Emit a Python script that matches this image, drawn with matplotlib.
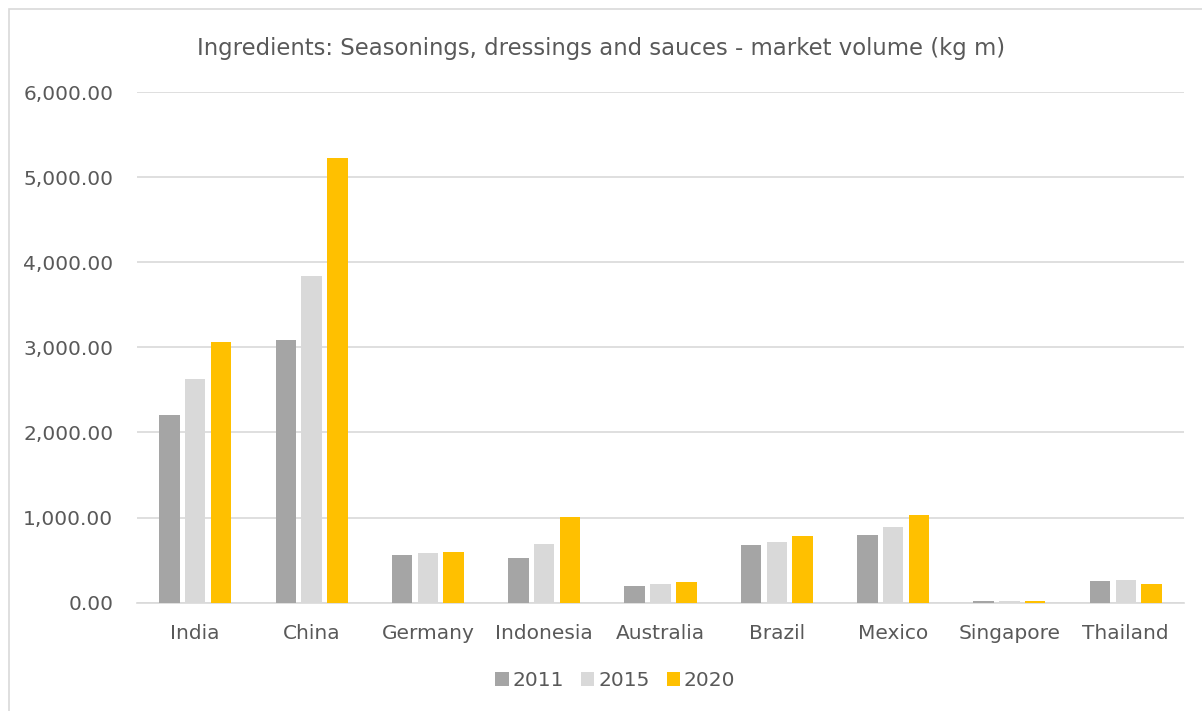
import matplotlib
matplotlib.use("Agg")
import matplotlib.pyplot as plt
import numpy as np
from matplotlib.patches import Rectangle

countries = ["India", "China", "Germany", "Indonesia", "Australia",
             "Brazil", "Mexico", "Singapore", "Thailand"]
vol_2011 = [2209, 3087, 556, 525, 196, 678, 791, 20, 251]
vol_2015 = [2632, 3843, 580, 685, 215, 709, 893, 22, 266]
vol_2020 = [3067, 5226, 595, 1007, 243, 783, 1030, 25, 223]
years = ["2011", "2015", "2020"]
yticks = [0, 1000, 2000, 3000, 4000, 5000, 6000]

TEXT = "#595959"
GRID = "#D9D9D9"
colors = ["#A5A5A5", "#D9D9D9", "#FFC000"]

plt.rcParams["font.family"] = ["DejaVu Sans"]

fig = plt.figure(figsize=(12.02, 7.11), dpi=100)
ax = fig.add_axes([0.114, 0.1523, 0.871, 0.7183])

# chart frame like the spreadsheet chart border
fig.patches.append(Rectangle((0.0075, -0.01), 1.0, 0.997, transform=fig.transFigure,
                             fill=False, edgecolor=GRID, linewidth=1.2))

x = np.arange(len(countries))
offs = [-0.222, 0.0, 0.222]
for series, off, c, lab in zip([vol_2011, vol_2015, vol_2020], offs, colors, years):
    ax.bar(x + off, series, width=0.175, color=c, label=lab, zorder=3)

ax.set_xlim(-0.5, len(countries) - 0.5)
ax.set_ylim(0, 6000)
ax.set_yticks(yticks)
ax.set_yticklabels([f"{v:,.2f}" for v in yticks])
ax.set_xticks(x)
ax.set_xticklabels(countries)
ax.yaxis.grid(True, color=GRID, linewidth=1.2, zorder=0)
ax.set_axisbelow(True)
for s in ["top", "right", "left"]:
    ax.spines[s].set_visible(False)
ax.spines["bottom"].set_color(GRID)
ax.spines["bottom"].set_linewidth(1.2)
ax.tick_params(axis="both", length=0, colors=TEXT, labelsize=14.5)
ax.tick_params(axis="y", pad=17)
ax.tick_params(axis="x", pad=15)

fig.text(0.5, 0.932, "Ingredients: Seasonings, dressings and sauces - market volume (kg m)",
         ha="center", va="center", fontsize=16.4, color=TEXT)

leg = fig.legend(loc="center", bbox_to_anchor=(0.512, 0.043), ncol=3, frameon=False,
                 fontsize=14.5, handlelength=0.65, handleheight=0.65, handletextpad=0.2,
                 columnspacing=0.85)
for t in leg.get_texts():
    t.set_color(TEXT)

fig.savefig("out.png", dpi=100)
